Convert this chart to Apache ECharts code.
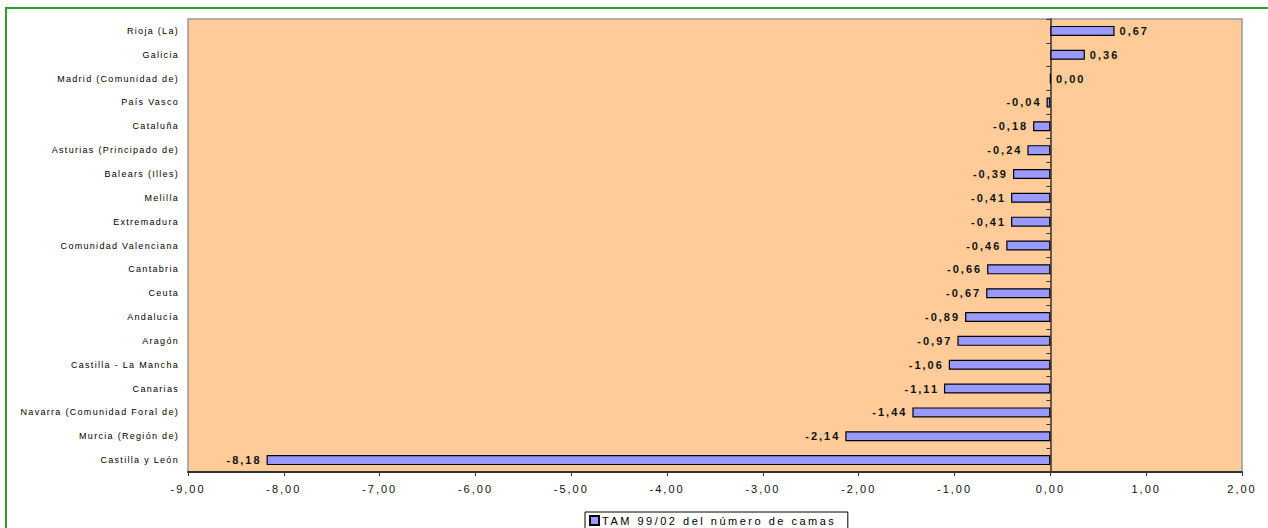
<!DOCTYPE html>
<html>
<head>
<meta charset="utf-8">
<script src="https://cdn.jsdelivr.net/npm/echarts@6/dist/echarts.min.js"></script>
<style>
html,body{margin:0;padding:0;background:#fff;overflow:hidden;}
#wrap{position:relative;width:1268px;height:528px;overflow:hidden;}
#chart{position:absolute;left:0;top:0;width:1268px;height:528px;}
#frame{position:absolute;left:5px;top:7px;width:1400px;height:600px;border-left:2px solid #2f9e2f;border-top:2px solid #2f9e2f;pointer-events:none;}
#chart text{letter-spacing:1.3px;}
#chart text[style*="Arimo"]{letter-spacing:2px;}
#chart text[style*="Helvetica"]{letter-spacing:2px;}
#chart text[style*="Nimbus"]{letter-spacing:2.5px;}
</style>
</head>
<body>
<div id="wrap">
<div id="chart"></div>
<div id="frame"></div>
</div>
<script>
const categories = ["Rioja (La)","Galicia","Madrid (Comunidad de)","País Vasco","Cataluña","Asturias (Principado de)","Balears (Illes)","Melilla","Extremadura","Comunidad Valenciana","Cantabria","Ceuta","Andalucía","Aragón","Castilla - La Mancha","Canarias","Navarra (Comunidad Foral de)","Murcia (Región de)","Castilla y León"];
const values = [0.67,0.36,0.00,-0.04,-0.18,-0.24,-0.39,-0.41,-0.41,-0.46,-0.66,-0.67,-0.89,-0.97,-1.06,-1.11,-1.44,-2.14,-8.18];
const seriesName = "TAM 99/02 del número de camas";
const xMin = -9, xMax = 2, xStep = 1;

const fmt = v => v.toFixed(2).replace('.', ',');
const fontCat = 'Liberation Sans, sans-serif';
const fontAxis = 'Liberation Sans, Arimo, sans-serif';
const fontVal = 'Liberation Sans, Helvetica, sans-serif';
const fontLegend = 'Liberation Sans, Nimbus Sans, sans-serif';

const chart = echarts.init(document.getElementById('chart'), null, {renderer: 'svg'});
chart.setOption({
  animation: false,
  backgroundColor: '#ffffff',
  grid: {left: 188, top: 19, right: 26, bottom: 56, show: true,
         backgroundColor: '#FFCC99', borderColor: '#999999', borderWidth: 1.5},
  legend: {
    left: 585, top: 512, orient: 'horizontal',
    data: [seriesName],
    borderColor: '#000', borderWidth: 1, padding: [3, 84, 3, 4],
    itemWidth: 9, itemHeight: 9, itemGap: 4,
    icon: 'rect',
    textStyle: {fontSize: 11, color: '#000', fontFamily: fontLegend, padding: [0,0,0,-2]}
  },
  xAxis: {
    type: 'value', min: xMin, max: xMax, interval: xStep,
    axisLine: {show: true, onZero: false, lineStyle: {color: '#333', width: 2}},
    axisTick: {show: true, length: 4, lineStyle: {color: '#333'}},
    axisLabel: {formatter: fmt, fontSize: 11, color: '#111', fontFamily: fontAxis, margin: 11},
    splitLine: {show: false}
  },
  yAxis: [{
    type: 'category', data: categories, inverse: true, position: 'left',
    axisLine: {show: false, onZero: false},
    axisTick: {show: false},
    axisLabel: {fontSize: 9, color: '#000', fontFamily: fontCat, margin: 9}
  }, {
    type: 'category', data: categories, inverse: true, position: 'left',
    axisLine: {show: true, onZero: true, lineStyle: {color: '#333', width: 1.5}},
    axisTick: {show: true, length: 4, lineStyle: {color: '#333'}},
    axisLabel: {show: false}
  }],
  series: [{
    name: seriesName, type: 'bar', yAxisIndex: 0, barWidth: 10,
    itemStyle: {color: '#9999FF', borderColor: '#000', borderWidth: 1.2},
    data: values.map(v => ({
      value: v,
      label: {position: v < 0 ? 'left' : 'right'}
    })),
    label: {show: true, formatter: p => fmt(p.value), fontSize: 11, fontWeight: 'bold',
            color: '#111', fontFamily: fontVal, distance: 5}
  }]
});
</script>
</body>
</html>
